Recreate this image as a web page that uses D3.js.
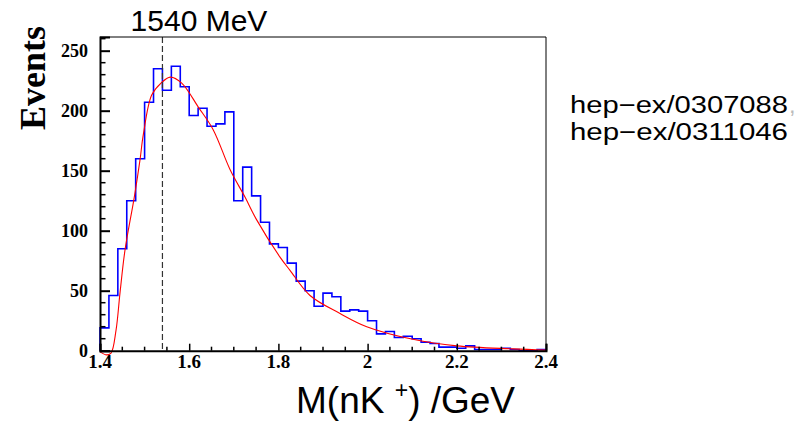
<!DOCTYPE html>
<html>
<head>
<meta charset="utf-8">
<script src="https://cdn.jsdelivr.net/npm/d3@7"></script>
<style>
  html, body { margin: 0; padding: 0; background: #fff; }
  svg { display: block; }
</style>
</head>
<body>
<svg id="chart" width="801" height="421"></svg>
<script>
// Invariant mass histogram: 50 bins of 20 MeV from 1.4 to 2.4 GeV
const binStart = 1.4;
const binWidth = 0.02;
const counts = [
  19, 46, 85, 125, 160, 207, 235, 217, 237, 220,
  196, 202, 187, 189, 199, 125, 153, 129, 107, 89,
  86, 73, 58, 50, 37, 48, 45, 33, 34, 33,
  25, 14, 16, 11, 12, 10, 7, 6, 3, 3,
  2, 4, 1, 1, 1, 2, 1, 0, 0, 1
];

// Fitted background curve, sampled (mass in GeV, events)
const fitMass = [1.400, 1.415, 1.4247, 1.4359, 1.4448, 1.4561, 1.4769, 1.4897, 1.4971,
  1.5159, 1.5368, 1.5576, 1.5832, 1.6204, 1.6540, 1.6915, 1.7251, 1.7513,
  1.8036, 1.8260, 1.8709, 1.9382, 1.9980, 2.1016, 2.2000, 2.3262, 2.4000];
const fitValue = [-1, -3.5, -2, 17, 48, 84, 128, 159, 180,
  213, 223, 228, 223, 203, 184, 151, 128, 109,
  78, 67, 46, 31, 20, 9.5, 4, 1.5, 0.5];

const peakMass = 1.54;
const peakLabel = "1540 MeV";
const xTicks = [1.4, 1.6, 1.8, 2.0, 2.2, 2.4];
const xTickLabels = ["1.4", "1.6", "1.8", "2", "2.2", "2.4"];
const yTicks = [0, 50, 100, 150, 200, 250];
const references = ["hep\u2212ex/0307088", "hep\u2212ex/0311046"];

const svg = d3.select("#chart");
const frame = { left: 100, right: 546, top: 37, bottom: 350.7 };

const x = d3.scaleLinear().domain([1.4, 2.4]).range([frame.left, frame.right]);
const y = d3.scaleLinear().domain([0, 261.4]).range([frame.bottom, frame.top]);

const serif = "'Liberation Serif', 'Times New Roman', serif";
const sans = "'Liberation Sans', Arial, Helvetica, sans-serif";

// clip for data
svg.append("clipPath").attr("id", "plotclip")
  .append("rect")
  .attr("x", frame.left - 3).attr("y", frame.top)
  .attr("width", frame.right - frame.left + 3)
  .attr("height", frame.bottom - frame.top + 6);

// histogram as a step outline
const stepPts = [[binStart, 0]];
counts.forEach((c, i) => {
  const lo = binStart + i * binWidth;
  stepPts.push([lo, c], [lo + binWidth, c]);
});
const stepLine = d3.line().x(d => x(d[0])).y(d => y(d[1]));
svg.append("path")
  .attr("clip-path", "url(#plotclip)")
  .attr("d", stepLine(stepPts))
  .attr("fill", "none")
  .attr("stroke", "#0000ff")
  .attr("stroke-width", 1.6);

// fit curve
const fitLine = d3.line()
  .x((d, i) => x(fitMass[i]))
  .y(d => y(d))
  .curve(d3.curveCatmullRom.alpha(0.5));
svg.append("path")
  .attr("clip-path", "url(#plotclip)")
  .attr("d", fitLine(fitValue))
  .attr("fill", "none")
  .attr("stroke", "#ff0000")
  .attr("stroke-width", 1.1);

// dashed marker at the peak mass
svg.append("line")
  .attr("x1", x(peakMass)).attr("x2", x(peakMass))
  .attr("y1", frame.top).attr("y2", frame.bottom)
  .attr("stroke", "#333")
  .attr("stroke-width", 1.2)
  .attr("stroke-dasharray", "6,3");

// frame (top and right thin)
svg.append("line").attr("x1", frame.left).attr("x2", frame.right)
  .attr("y1", frame.top).attr("y2", frame.top)
  .attr("stroke", "#000").attr("stroke-width", 1);
svg.append("line").attr("x1", frame.right).attr("x2", frame.right)
  .attr("y1", frame.top).attr("y2", frame.bottom)
  .attr("stroke", "#000").attr("stroke-width", 1);

// y axis with inward ticks
const yAxis = d3.axisRight(y).tickValues(yTicks).tickSize(10).tickFormat("");
const yg = svg.append("g").attr("transform", `translate(${frame.left},0)`).call(yAxis);
yg.select(".domain").attr("stroke-width", 2);
yg.selectAll(".tick line").attr("stroke-width", 2);
const yMinor = d3.range(0, 261, 10).filter(v => v % 50 !== 0);
yg.selectAll(".minor").data(yMinor).enter().append("line")
  .attr("x1", 0).attr("x2", 5.5)
  .attr("y1", d => y(d)).attr("y2", d => y(d))
  .attr("stroke", "#000").attr("stroke-width", 1.5);
svg.append("g").selectAll("text").data(yTicks).enter().append("text")
  .attr("x", frame.left - 12)
  .attr("y", d => y(d) + 6)
  .attr("text-anchor", "end")
  .attr("font-family", serif).attr("font-weight", "bold").attr("font-size", 18)
  .text(d => d);

// x axis with inward ticks
const xAxis = d3.axisTop(x).tickValues(xTicks).tickSize(7).tickFormat("");
const xg = svg.append("g").attr("transform", `translate(0,${frame.bottom})`).call(xAxis);
xg.select(".domain").attr("stroke-width", 2);
xg.selectAll(".tick line").attr("stroke-width", 1.5);
const xMinor = d3.range(1.45, 2.4, 0.05).filter(v => Math.abs(v * 5 - Math.round(v * 5)) > 1e-6);
xg.selectAll(".minor").data(xMinor).enter().append("line")
  .attr("x1", d => x(d)).attr("x2", d => x(d))
  .attr("y1", 0).attr("y2", -4)
  .attr("stroke", "#000").attr("stroke-width", 1.5);
svg.append("g").selectAll("text").data(xTicks).enter().append("text")
  .attr("x", d => x(d))
  .attr("y", frame.bottom + 17)
  .attr("text-anchor", "middle")
  .attr("font-family", serif).attr("font-weight", "bold").attr("font-size", 19)
  .text((d, i) => xTickLabels[i]);

// axis titles
svg.append("text")
  .attr("transform", "translate(45,78) rotate(-90)")
  .attr("text-anchor", "middle")
  .attr("font-family", serif).attr("font-weight", "bold").attr("font-size", 36)
  .text("Events");

const xt = svg.append("text")
  .attr("x", 296).attr("y", 413)
  .attr("font-family", sans).attr("font-size", 37);
xt.append("tspan").text("M(nK ");
xt.append("tspan").attr("font-size", 23).attr("dy", -15).text("+");
xt.append("tspan").attr("dy", 15).text(") /GeV");

// peak label
svg.append("text")
  .attr("x", 199).attr("y", 31)
  .attr("text-anchor", "middle")
  .attr("font-family", sans).attr("font-size", 30)
  .text(peakLabel);

// references, drawn slightly wide to span the same width
const refs = svg.append("g");
references.forEach((r, i) => {
  refs.append("text")
    .attr("x", 570).attr("y", 113 + i * 27)
    .attr("font-family", sans).attr("font-size", 23.5)
    .attr("textLength", 218)
    .attr("lengthAdjust", "spacingAndGlyphs")
    .text(r);
});
refs.append("text")
  .attr("x", 789).attr("y", 113)
  .attr("font-family", sans).attr("font-size", 23.5)
  .attr("fill", "#bbb")
  .text(",");
</script>
</body>
</html>
